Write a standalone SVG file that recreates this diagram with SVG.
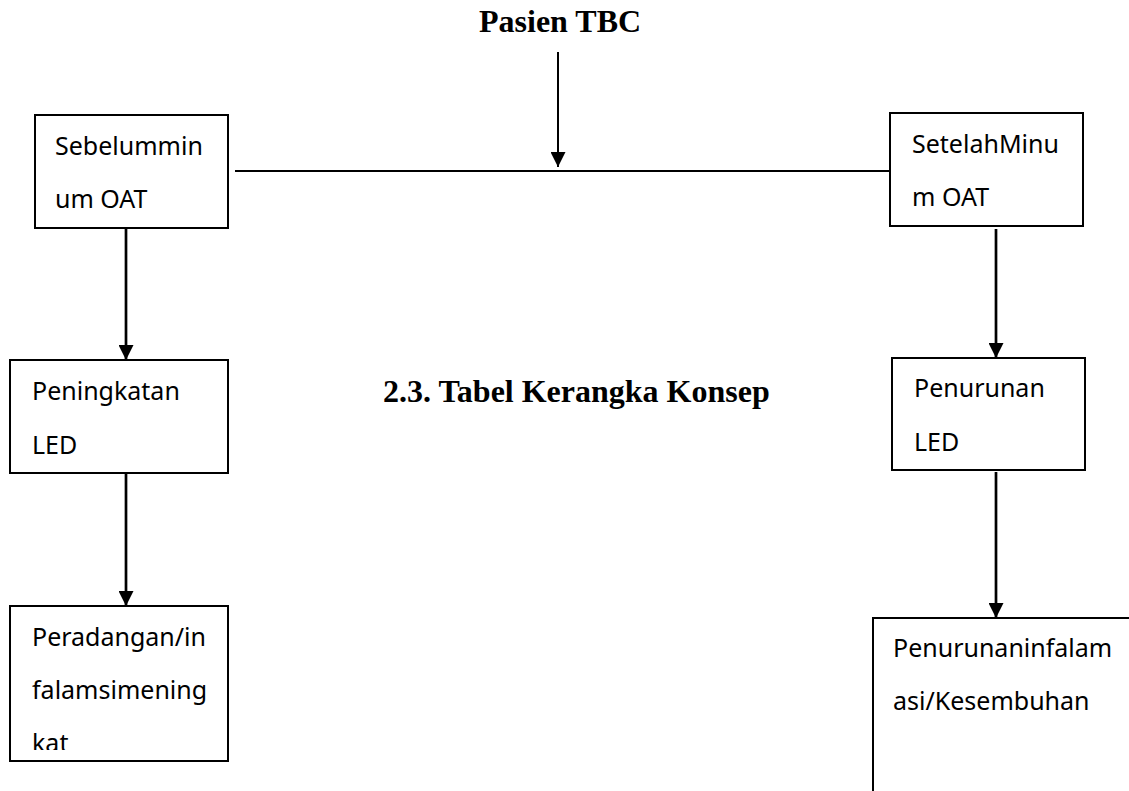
<svg xmlns="http://www.w3.org/2000/svg" width="1129" height="791" viewBox="0 0 1129 791">
<style>
.box{fill:#fff;stroke:#000;stroke-width:2}
.t{font-family:"Noto Sans","Open Sans",sans-serif;font-size:25px;fill:#000}
.h{font-family:"Liberation Serif","Times New Roman",serif;font-size:32px;font-weight:bold;fill:#000}
.c{stroke:#000;fill:none}
</style>
<defs>
<marker id="ah" viewBox="0 0 10 10" refX="10" refY="5" markerWidth="15" markerHeight="15" markerUnits="userSpaceOnUse" orient="auto">
<path d="M0,0 L10,5 L0,10 Z" fill="#000"/>
</marker>
<clipPath id="clipP"><rect x="10" y="606" width="218" height="144"/></clipPath>
</defs>
<rect width="1129" height="791" fill="#fff"/>
<g id="connectors">
<line class="c" x1="235" y1="171" x2="890" y2="171" stroke-width="2"/>
<line class="c" x1="558" y1="52" x2="558" y2="167" stroke-width="2" marker-end="url(#ah)"/>
<line class="c" x1="126" y1="229" x2="126" y2="360" stroke-width="2.7" marker-end="url(#ah)"/>
<line class="c" x1="126" y1="474" x2="126" y2="606" stroke-width="2.7" marker-end="url(#ah)"/>
<line class="c" x1="996" y1="229" x2="996" y2="358" stroke-width="2.7" marker-end="url(#ah)"/>
<line class="c" x1="996" y1="472" x2="996" y2="618" stroke-width="2.7" marker-end="url(#ah)"/>
</g>
<g id="title-pasien"><text class="h" x="479" y="32">Pasien TBC</text></g>
<g id="title-tabel"><text class="h" x="383" y="402">2.3. Tabel Kerangka Konsep</text></g>
<g id="node-sebelum">
<rect class="box" x="35" y="115" width="193" height="113"/>
<text class="t" x="55" y="155">Sebelummin</text>
<text class="t" x="55" y="208">um OAT</text>
</g>
<g id="node-setelah">
<rect class="box" x="890" y="113" width="193" height="113"/>
<text class="t" x="912" y="153">SetelahMinu</text>
<text class="t" x="912" y="206">m OAT</text>
</g>
<g id="node-peningkatan">
<rect class="box" x="10" y="360" width="218" height="113"/>
<text class="t" x="32" y="400">Peningkatan</text>
<text class="t" x="32" y="454">LED</text>
</g>
<g id="node-penurunan">
<rect class="box" x="892" y="358" width="193" height="112"/>
<text class="t" x="914" y="397">Penurunan</text>
<text class="t" x="914" y="451">LED</text>
</g>
<g id="node-peradangan">
<rect class="box" x="10" y="606" width="218" height="155"/>
<g clip-path="url(#clipP)">
<text class="t" x="32" y="646">Peradangan/in</text>
<text class="t" x="32" y="699">falamsimening</text>
<text class="t" x="32" y="752">kat</text>
</g>
</g>
<g id="node-kesembuhan">
<rect class="box" x="873" y="618" width="300" height="220"/>
<text class="t" x="893" y="657">Penurunaninfalam</text>
<text class="t" x="893" y="710">asi/Kesembuhan</text>
</g>
</svg>
